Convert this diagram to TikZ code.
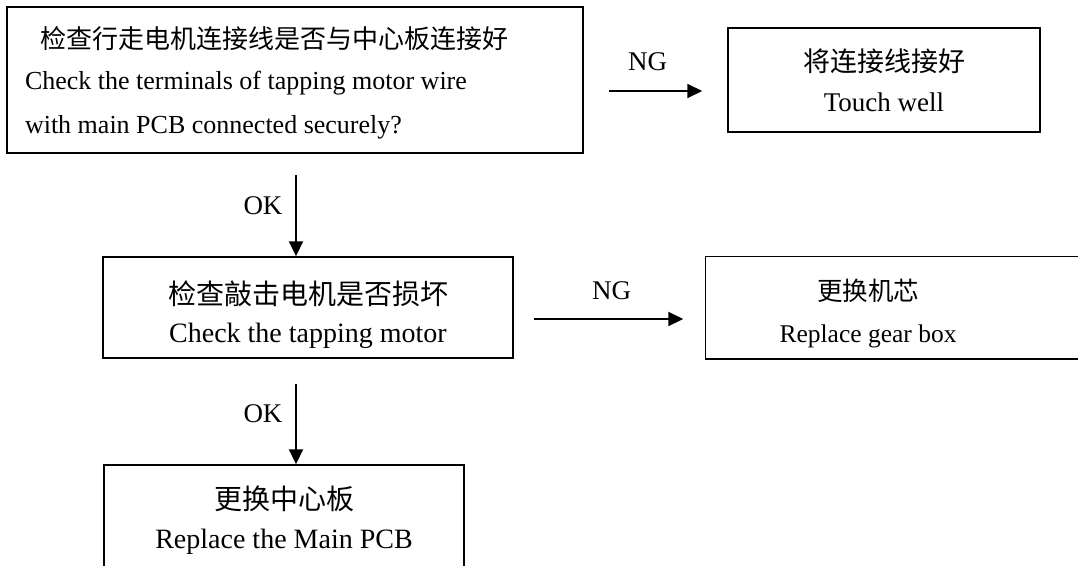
\documentclass[tikz,border=0pt]{standalone}
\usepackage{fontspec}
\setmainfont{Liberation Serif}
\newfontfamily\cjk{Noto Sans CJK SC}
\usetikzlibrary{arrows.meta}

\tikzset{
  stepbox/.style={draw, line width=1.5pt, align=center, inner sep=0pt, text depth=0pt},
  boxline/.style={line width=1.5pt},
  flow/.style={line width=2pt, -{Triangle[length=15pt, width=14pt]}},
  lbl/.style={font=\fontsize{27pt}{30pt}\selectfont, inner sep=0pt}
}

\begin{document}
\begin{tikzpicture}[x=1pt, y=-1pt]
    \useasboundingbox (0,0) rectangle (1078,565);
    \clip (0,0) rectangle (1078,565);

    % Check the wire terminals
    \node[stepbox, text width=540pt, inner xsep=18pt, align=left, minimum height=146pt,
          text height=0pt, text depth=63pt, font=\fontsize{26pt}{44pt}\selectfont] (wire) at (295,80)
        {\spaceskip=0pt\relax\hspace*{15pt}{\cjk 检查行走电机连接线是否与中心板连接好}\\[-3pt]Check the terminals of tapping motor wire\\with main PCB connected securely?};
    \node[stepbox, minimum width=312pt, minimum height=104pt, text height=63pt,
          font=\fontsize{27pt}{40pt}\selectfont] (touch) at (884,80)
        {{\cjk 将连接线接好}\\Touch well};

    % Check the motor
    \node[stepbox, minimum width=410pt, minimum height=101pt, text height=69pt,
          font=\fontsize{28pt}{38pt}\selectfont] (motor) at (308,307.5)
        {{\cjk 检查敲击电机是否损坏}\\Check the tapping motor};
    \node[stepbox, draw=none, minimum width=324pt, minimum height=101pt, text height=69pt,
          font=\fontsize{25.5pt}{42pt}\selectfont] (gear) at (868,307.5)
        {{\cjk 更换机芯}\\Replace gear box};
    \draw[boxline] (gear.north west) rectangle ([xshift=60pt]gear.south east);

    % Replace the board
    \node[stepbox, minimum width=360pt, minimum height=112pt, text height=54pt,
          font=\fontsize{28pt}{39pt}\selectfont] (pcb) at (284,521)
        {{\cjk 更换中心板}\\Replace the Main PCB};

    % Arrows
    \coordinate (ok1) at ([xshift=-12pt]motor.north);
    \coordinate (ok2) at ([xshift=12pt]pcb.north);
    \draw[flow, shorten <=21pt] (wire.south -| ok1) -- (ok1);
    \draw[flow, shorten <=25pt] (motor.south -| ok2) -- (ok2);
    \draw[flow, shorten <=25pt, shorten >=25pt] ([yshift=-11pt]wire.east) -- ([yshift=-11pt]touch.west);
    \draw[flow, shorten <=20pt, shorten >=22pt] ([yshift=-11.5pt]motor.east) -- ([yshift=-11.5pt]gear.west);

    % Labels
    \node[lbl] (ng1) at (647.5,62) {NG};
    \node[lbl] (ng2) at (611.5,290.5) {NG};
    \node[lbl] (ok1l) at (263,206) {OK};
    \node[lbl] (ok2l) at (263,414) {OK};
\end{tikzpicture}
\end{document}
